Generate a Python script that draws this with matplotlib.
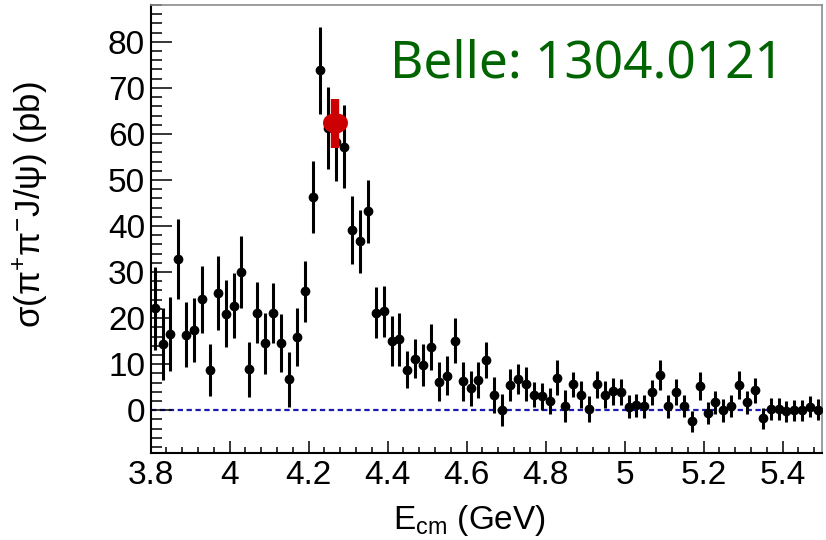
import numpy as np
import matplotlib
matplotlib.use("Agg")
import matplotlib.pyplot as plt
from matplotlib.ticker import MultipleLocator

plt.rcParams['font.family'] = ['Liberation Sans', 'DejaVu Sans']
plt.rcParams['mathtext.fontset'] = 'custom'
plt.rcParams['mathtext.rm'] = 'Liberation Sans'
plt.rcParams['mathtext.it'] = 'Liberation Sans'
plt.rcParams['mathtext.sf'] = 'Liberation Sans'

# Belle ISR pi+pi- J/psi cross section, 20 MeV bins
e_cm = [3.81, 3.83, 3.85, 3.87, 3.89, 3.91, 3.93, 3.95, 3.97, 3.99,
        4.01, 4.03, 4.05, 4.07, 4.09, 4.11, 4.13, 4.15, 4.17, 4.19,
        4.21, 4.23, 4.25, 4.27, 4.29, 4.31, 4.33, 4.35, 4.37, 4.39,
        4.41, 4.43, 4.45, 4.47, 4.49, 4.51, 4.53, 4.55, 4.57, 4.59,
        4.61, 4.63, 4.65, 4.67, 4.69, 4.71, 4.73, 4.75, 4.77, 4.79,
        4.81, 4.83, 4.85, 4.87, 4.89, 4.91, 4.93, 4.95, 4.97, 4.99,
        5.01, 5.03, 5.05, 5.07, 5.09, 5.11, 5.13, 5.15, 5.17, 5.19,
        5.21, 5.23, 5.25, 5.27, 5.29, 5.31, 5.33, 5.35, 5.37, 5.39,
        5.41, 5.43, 5.45, 5.47, 5.49]
sigma = [22.1, 14.3, 16.5, 32.8, 16.4, 17.4, 24.1, 8.7, 25.5, 21.0,
         22.7, 30.0, 8.9, 21.2, 14.5, 21.1, 14.6, 6.7, 15.9, 25.8,
         46.3, 73.8, 61.3, 58.3, 57.2, 39.1, 36.7, 43.2, 21.2, 21.5,
         15.1, 15.4, 8.8, 11.2, 9.8, 13.8, 6.2, 7.5, 15.1, 6.3,
         4.8, 6.5, 10.9, 3.3, 0.0, 5.4, 6.8, 5.7, 3.4, 3.0,
         2.0, 7.0, 0.9, 5.6, 3.4, 0.2, 5.6, 3.4, 4.1, 3.9,
         0.8, 1.1, 0.9, 3.9, 7.6, 0.9, 3.9, 0.9, -2.4, 5.2,
         -0.7, 1.7, 0.0, 1.0, 5.5, 1.7, 4.3, -1.8, 0.3, 0.3,
         -0.2, 0.0, 0.0, 0.8, 0.1]
err = [9.0, 7.8, 8.0, 8.7, 7.0, 7.0, 7.3, 5.7, 8.0, 7.2,
       7.0, 7.8, 6.0, 6.7, 6.6, 6.6, 6.4, 5.9, 6.2, 6.7,
       7.8, 9.5, 9.0, 8.6, 9.0, 7.4, 6.8, 6.9, 5.5, 5.5,
       5.4, 5.7, 4.0, 4.3, 4.5, 5.0, 4.2, 4.2, 4.9, 4.2,
       3.8, 3.9, 3.9, 4.0, 3.5, 3.5, 3.3, 3.7, 2.7, 3.0,
       2.8, 3.8, 3.4, 2.7, 3.0, 2.8, 3.0, 2.9, 2.9, 2.8,
       2.6, 2.5, 2.5, 2.7, 3.3, 2.5, 2.8, 2.4, 2.3, 3.0,
       2.4, 2.5, 2.5, 2.4, 3.0, 2.5, 2.7, 2.2, 2.4, 2.4,
       2.3, 2.3, 2.3, 2.3, 2.3]

# single measurement at 4.26 GeV overlaid in red
e_red = [4.268]
sigma_red = [62.3]
err_red = [5.3]
xerr_red = [0.009]

fig = plt.figure(figsize=(8.26, 5.40), dpi=100)
ax = fig.add_axes([0.1824, 0.1611, 0.8128, 0.8296])

ax.axhline(0, color='#1a1ab0', lw=1.6, ls=(0, (2.4, 1.6)), zorder=1)

ax.errorbar(e_cm, sigma, yerr=err, fmt='o', color='black', ms=6,
            elinewidth=2.2, capsize=0, zorder=3)

ax.errorbar(e_red, sigma_red, yerr=err_red, fmt='o', color='#cc0000',
            ms=14, elinewidth=6, capsize=0, zorder=4)
ax.plot([e_red[0] - xerr_red[0], e_red[0] + xerr_red[0]],
        [sigma_red[0], sigma_red[0]], color='#cc0000', lw=13,
        solid_capstyle='round', zorder=4)

ax.set_xlim(3.8, 5.5)
ax.set_ylim(-9.3, 88)

ax.xaxis.set_minor_locator(MultipleLocator(0.04))
ax.yaxis.set_minor_locator(MultipleLocator(2))
ax.set_xticks([3.8, 4.0, 4.2, 4.4, 4.6, 4.8, 5.0, 5.2, 5.4])
ax.set_xticklabels(['3.8', '4', '4.2', '4.4', '4.6', '4.8', '5', '5.2', '5.4'])
ax.set_yticks([0, 10, 20, 30, 40, 50, 60, 70, 80])

ax.tick_params(axis='both', which='both', direction='in', top=False,
               right=False, width=1.1, color='black', labelsize=24)
ax.tick_params(axis='y', which='major', length=15, pad=4)
ax.tick_params(axis='y', which='minor', length=8)
ax.tick_params(axis='x', which='major', length=8.6, pad=5)
ax.tick_params(axis='x', which='minor', length=4.3)

for s in ('left', 'bottom'):
    ax.spines[s].set_linewidth(1.5)
    ax.spines[s].set_color('black')
for s in ('top', 'right'):
    ax.spines[s].set_linewidth(1.2)
    ax.spines[s].set_color('#8c8c8c')

ax.set_ylabel(r'$\mathrm{σ(π^{+}π^{-}J/ψ)}$ (pb)', fontsize=25)
ax.yaxis.set_label_coords(-0.15, 0.555)
ax.set_xlabel(r'E$_{\mathrm{cm}}$ (GeV)', fontsize=24)
ax.xaxis.set_label_coords(0.475, -0.112)

fig.text(0.472, 0.857, 'Belle: 1304.0121', color='#006400', fontsize=37,
         family='Noto Sans', ha='left', va='baseline')

fig.savefig('out.png', dpi=100)
